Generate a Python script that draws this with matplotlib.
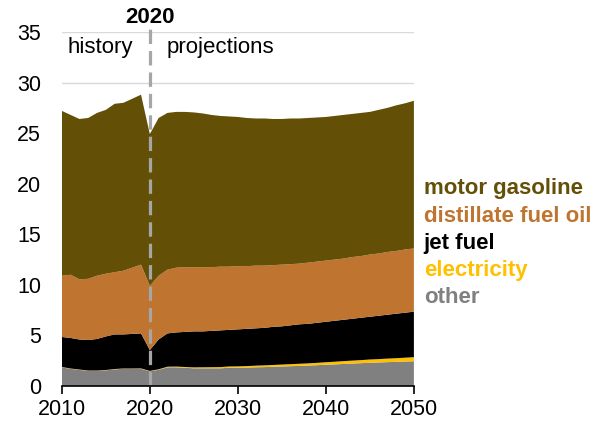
import numpy as np
import matplotlib
matplotlib.use('Agg')
import matplotlib.pyplot as plt

plt.rcParams['font.family'] = ['Liberation Sans', 'DejaVu Sans']

years = np.arange(2010, 2051)

# quadrillion Btu
other = [1.85, 1.70, 1.60, 1.50, 1.50, 1.55, 1.65, 1.70, 1.70, 1.70,
         1.45, 1.60, 1.85, 1.85, 1.80, 1.75, 1.75, 1.75, 1.75, 1.80,
         1.80, 1.82, 1.85, 1.87, 1.90, 1.93, 1.96, 1.99, 2.02, 2.06,
         2.10, 2.14, 2.18, 2.22, 2.26, 2.30, 2.33, 2.36, 2.39, 2.42, 2.45]
electricity = [0.03, 0.03, 0.03, 0.03, 0.03, 0.03, 0.03, 0.03, 0.03, 0.04,
               0.04, 0.05, 0.06, 0.07, 0.08, 0.09, 0.10, 0.11, 0.12, 0.13,
               0.14, 0.15, 0.16, 0.17, 0.18, 0.19, 0.20, 0.21, 0.22, 0.23,
               0.25, 0.26, 0.28, 0.29, 0.30, 0.32, 0.33, 0.35, 0.36, 0.38, 0.40]
jet_fuel = [2.97, 3.02, 2.97, 3.02, 3.12, 3.32, 3.42, 3.37, 3.42, 3.46,
            2.06, 2.95, 3.29, 3.38, 3.47, 3.56, 3.55, 3.59, 3.63, 3.62,
            3.66, 3.68, 3.69, 3.71, 3.77, 3.78, 3.84, 3.90, 3.91, 3.96,
            4.00, 4.05, 4.09, 4.14, 4.19, 4.23, 4.29, 4.34, 4.40, 4.45, 4.50]
distillate = [6.05, 6.25, 5.95, 6.05, 6.25, 6.20, 6.15, 6.30, 6.55, 6.80,
              6.35, 6.30, 6.30, 6.40, 6.40, 6.35, 6.35, 6.30, 6.30, 6.25,
              6.25, 6.20, 6.20, 6.15, 6.10, 6.10, 6.05, 6.00, 6.05, 6.05,
              6.05, 6.05, 6.05, 6.10, 6.10, 6.15, 6.15, 6.20, 6.20, 6.25, 6.25]
gasoline = [16.30, 15.80, 15.85, 15.90, 16.10, 16.20, 16.65, 16.60, 16.70, 16.80,
            15.00, 15.60, 15.50, 15.40, 15.35, 15.30, 15.20, 15.05, 14.90, 14.85,
            14.75, 14.65, 14.55, 14.55, 14.45, 14.40, 14.40, 14.35, 14.30, 14.25,
            14.20, 14.20, 14.20, 14.15, 14.15, 14.10, 14.20, 14.25, 14.40, 14.45, 14.60]

labels = ['other', 'electricity', 'jet fuel', 'distillate fuel oil', 'motor gasoline']
colors = ['#808080', '#FFC000', '#000000', '#BF7430', '#634F06']

fig = plt.figure(figsize=(6.06, 4.30), dpi=100)
ax = fig.add_axes([0.102, 0.1023, 0.581, 0.8233])

ax.stackplot(years, other, electricity, jet_fuel, distillate, gasoline,
             colors=colors, linewidth=0, zorder=2)

ax.set_xlim(2010, 2050)
ax.set_ylim(0, 35)
ax.set_yticks(range(0, 36, 5))
ax.set_xticks(range(2010, 2051, 10))
ax.grid(axis='y', color='#D9D9D9', linewidth=1, zorder=0)
ax.set_axisbelow(True)
for s in ['left', 'right', 'top']:
    ax.spines[s].set_visible(False)
ax.spines['bottom'].set_linewidth(1.2)
ax.spines['bottom'].set_zorder(5)
ax.tick_params(axis='y', length=0, pad=15, labelsize=15.5)
ax.tick_params(axis='x', length=6, width=1.2, direction='out', pad=3, labelsize=15.5)

# 2020 divider
ax.plot([2020, 2020], [0, 35.3], color='#A6A6A6', linewidth=2.3,
        linestyle=(0, (4.5, 2.2)), clip_on=False, zorder=4)
ax.text(2020, 36.4, '2020', ha='center', va='center', fontsize=16, fontweight='bold')
ax.text(2010.6, 33.5, 'history', ha='left', va='center', fontsize=16)
ax.text(2021.9, 33.5, 'projections', ha='left', va='center', fontsize=16)

# labels at right
ys = [19.5, 16.8, 14.1, 11.45, 8.8]
for name, c, y in zip(labels[::-1], colors[::-1], ys):
    ax.text(1.028, y, name, transform=ax.get_yaxis_transform(), color=c,
            fontsize=16, fontweight='bold', ha='left', va='center')

fig.savefig('out.png', dpi=100)
